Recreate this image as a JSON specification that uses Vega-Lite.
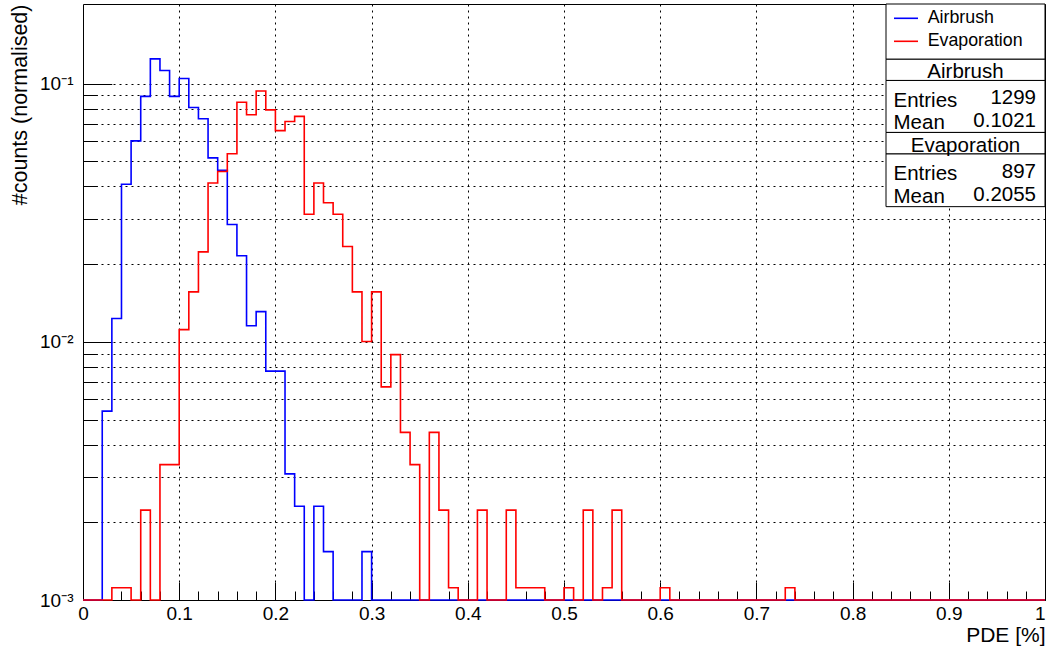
{
  "$schema": "https://vega.github.io/schema/vega-lite/v6.json",
  "width": 962,
  "height": 596,
  "autosize": {"type": "none"},
  "padding": {"left": 83, "top": 4, "right": 1, "bottom": 46},
  "background": "white",
  "config": {
    "view": {"stroke": "black", "strokeWidth": 1},
    "font": "Liberation Sans",
    "axis": {
      "domain": false,
      "labelFont": "Liberation Sans",
      "titleFont": "Liberation Sans",
      "labelColor": "black",
      "titleColor": "black",
      "tickColor": "black",
      "tickWidth": 1,
      "gridColor": "black",
      "gridWidth": 1,
      "gridDash": [2, 4],
      "titleFontWeight": "normal",
      "labelFontSize": 19,
      "titleFontSize": 21,
      "labelFlush": false,
      "labelOverlap": false
    },
    "text": {"font": "Liberation Sans", "fontSize": 20.5, "color": "black"}
  },
  "datasets": {
    "hist": [
      {"sample": "Airbrush", "pde": 0.00, "fraction": 0},
      {"sample": "Airbrush", "pde": 0.01, "fraction": 0},
      {"sample": "Airbrush", "pde": 0.02, "fraction": 0.005389},
      {"sample": "Airbrush", "pde": 0.03, "fraction": 0.012317},
      {"sample": "Airbrush", "pde": 0.04, "fraction": 0.0408},
      {"sample": "Airbrush", "pde": 0.05, "fraction": 0.060046},
      {"sample": "Airbrush", "pde": 0.06, "fraction": 0.089299},
      {"sample": "Airbrush", "pde": 0.07, "fraction": 0.124711},
      {"sample": "Airbrush", "pde": 0.08, "fraction": 0.112394},
      {"sample": "Airbrush", "pde": 0.09, "fraction": 0.089299},
      {"sample": "Airbrush", "pde": 0.10, "fraction": 0.104696},
      {"sample": "Airbrush", "pde": 0.11, "fraction": 0.080831},
      {"sample": "Airbrush", "pde": 0.12, "fraction": 0.073133},
      {"sample": "Airbrush", "pde": 0.13, "fraction": 0.051578},
      {"sample": "Airbrush", "pde": 0.14, "fraction": 0.046189},
      {"sample": "Airbrush", "pde": 0.15, "fraction": 0.028484},
      {"sample": "Airbrush", "pde": 0.16, "fraction": 0.021555},
      {"sample": "Airbrush", "pde": 0.17, "fraction": 0.011547},
      {"sample": "Airbrush", "pde": 0.18, "fraction": 0.013087},
      {"sample": "Airbrush", "pde": 0.19, "fraction": 0.007698},
      {"sample": "Airbrush", "pde": 0.20, "fraction": 0.007698},
      {"sample": "Airbrush", "pde": 0.21, "fraction": 0.003079},
      {"sample": "Airbrush", "pde": 0.22, "fraction": 0.002309},
      {"sample": "Airbrush", "pde": 0.23, "fraction": 0},
      {"sample": "Airbrush", "pde": 0.24, "fraction": 0.002309},
      {"sample": "Airbrush", "pde": 0.25, "fraction": 0.00154},
      {"sample": "Airbrush", "pde": 0.26, "fraction": 0},
      {"sample": "Airbrush", "pde": 0.27, "fraction": 0},
      {"sample": "Airbrush", "pde": 0.28, "fraction": 0},
      {"sample": "Airbrush", "pde": 0.29, "fraction": 0.00154},
      {"sample": "Airbrush", "pde": 0.30, "fraction": 0},
      {"sample": "Airbrush", "pde": 0.31, "fraction": 0},
      {"sample": "Airbrush", "pde": 0.32, "fraction": 0},
      {"sample": "Airbrush", "pde": 0.33, "fraction": 0},
      {"sample": "Airbrush", "pde": 0.34, "fraction": 0},
      {"sample": "Airbrush", "pde": 0.35, "fraction": 0},
      {"sample": "Airbrush", "pde": 0.36, "fraction": 0},
      {"sample": "Airbrush", "pde": 0.37, "fraction": 0},
      {"sample": "Airbrush", "pde": 0.38, "fraction": 0},
      {"sample": "Airbrush", "pde": 0.39, "fraction": 0},
      {"sample": "Airbrush", "pde": 0.40, "fraction": 0},
      {"sample": "Airbrush", "pde": 0.41, "fraction": 0},
      {"sample": "Airbrush", "pde": 0.42, "fraction": 0},
      {"sample": "Airbrush", "pde": 0.43, "fraction": 0},
      {"sample": "Airbrush", "pde": 0.44, "fraction": 0},
      {"sample": "Airbrush", "pde": 0.45, "fraction": 0},
      {"sample": "Airbrush", "pde": 0.46, "fraction": 0},
      {"sample": "Airbrush", "pde": 0.47, "fraction": 0},
      {"sample": "Airbrush", "pde": 0.48, "fraction": 0},
      {"sample": "Airbrush", "pde": 0.49, "fraction": 0},
      {"sample": "Airbrush", "pde": 0.50, "fraction": 0},
      {"sample": "Airbrush", "pde": 0.51, "fraction": 0},
      {"sample": "Airbrush", "pde": 0.52, "fraction": 0},
      {"sample": "Airbrush", "pde": 0.53, "fraction": 0},
      {"sample": "Airbrush", "pde": 0.54, "fraction": 0},
      {"sample": "Airbrush", "pde": 0.55, "fraction": 0},
      {"sample": "Airbrush", "pde": 0.56, "fraction": 0},
      {"sample": "Airbrush", "pde": 0.57, "fraction": 0},
      {"sample": "Airbrush", "pde": 0.58, "fraction": 0},
      {"sample": "Airbrush", "pde": 0.59, "fraction": 0},
      {"sample": "Airbrush", "pde": 0.60, "fraction": 0},
      {"sample": "Airbrush", "pde": 0.61, "fraction": 0},
      {"sample": "Airbrush", "pde": 0.62, "fraction": 0},
      {"sample": "Airbrush", "pde": 0.63, "fraction": 0},
      {"sample": "Airbrush", "pde": 0.64, "fraction": 0},
      {"sample": "Airbrush", "pde": 0.65, "fraction": 0},
      {"sample": "Airbrush", "pde": 0.66, "fraction": 0},
      {"sample": "Airbrush", "pde": 0.67, "fraction": 0},
      {"sample": "Airbrush", "pde": 0.68, "fraction": 0},
      {"sample": "Airbrush", "pde": 0.69, "fraction": 0},
      {"sample": "Airbrush", "pde": 0.70, "fraction": 0},
      {"sample": "Airbrush", "pde": 0.71, "fraction": 0},
      {"sample": "Airbrush", "pde": 0.72, "fraction": 0},
      {"sample": "Airbrush", "pde": 0.73, "fraction": 0},
      {"sample": "Airbrush", "pde": 0.74, "fraction": 0},
      {"sample": "Airbrush", "pde": 0.75, "fraction": 0},
      {"sample": "Airbrush", "pde": 0.76, "fraction": 0},
      {"sample": "Airbrush", "pde": 0.77, "fraction": 0},
      {"sample": "Airbrush", "pde": 0.78, "fraction": 0},
      {"sample": "Airbrush", "pde": 0.79, "fraction": 0},
      {"sample": "Airbrush", "pde": 0.80, "fraction": 0},
      {"sample": "Airbrush", "pde": 0.81, "fraction": 0},
      {"sample": "Airbrush", "pde": 0.82, "fraction": 0},
      {"sample": "Airbrush", "pde": 0.83, "fraction": 0},
      {"sample": "Airbrush", "pde": 0.84, "fraction": 0},
      {"sample": "Airbrush", "pde": 0.85, "fraction": 0},
      {"sample": "Airbrush", "pde": 0.86, "fraction": 0},
      {"sample": "Airbrush", "pde": 0.87, "fraction": 0},
      {"sample": "Airbrush", "pde": 0.88, "fraction": 0},
      {"sample": "Airbrush", "pde": 0.89, "fraction": 0},
      {"sample": "Airbrush", "pde": 0.90, "fraction": 0},
      {"sample": "Airbrush", "pde": 0.91, "fraction": 0},
      {"sample": "Airbrush", "pde": 0.92, "fraction": 0},
      {"sample": "Airbrush", "pde": 0.93, "fraction": 0},
      {"sample": "Airbrush", "pde": 0.94, "fraction": 0},
      {"sample": "Airbrush", "pde": 0.95, "fraction": 0},
      {"sample": "Airbrush", "pde": 0.96, "fraction": 0},
      {"sample": "Airbrush", "pde": 0.97, "fraction": 0},
      {"sample": "Airbrush", "pde": 0.98, "fraction": 0},
      {"sample": "Airbrush", "pde": 0.99, "fraction": 0},
      {"sample": "Airbrush", "pde": 1.00, "fraction": 0},
      {"sample": "Evaporation", "pde": 0.00, "fraction": 0},
      {"sample": "Evaporation", "pde": 0.01, "fraction": 0},
      {"sample": "Evaporation", "pde": 0.02, "fraction": 0},
      {"sample": "Evaporation", "pde": 0.03, "fraction": 0.001115},
      {"sample": "Evaporation", "pde": 0.04, "fraction": 0.001115},
      {"sample": "Evaporation", "pde": 0.05, "fraction": 0},
      {"sample": "Evaporation", "pde": 0.06, "fraction": 0.00223},
      {"sample": "Evaporation", "pde": 0.07, "fraction": 0},
      {"sample": "Evaporation", "pde": 0.08, "fraction": 0.003344},
      {"sample": "Evaporation", "pde": 0.09, "fraction": 0.003344},
      {"sample": "Evaporation", "pde": 0.10, "fraction": 0.011148},
      {"sample": "Evaporation", "pde": 0.11, "fraction": 0.015608},
      {"sample": "Evaporation", "pde": 0.12, "fraction": 0.022297},
      {"sample": "Evaporation", "pde": 0.13, "fraction": 0.041249},
      {"sample": "Evaporation", "pde": 0.14, "fraction": 0.045708},
      {"sample": "Evaporation", "pde": 0.15, "fraction": 0.053512},
      {"sample": "Evaporation", "pde": 0.16, "fraction": 0.084727},
      {"sample": "Evaporation", "pde": 0.17, "fraction": 0.075808},
      {"sample": "Evaporation", "pde": 0.18, "fraction": 0.093645},
      {"sample": "Evaporation", "pde": 0.19, "fraction": 0.079153},
      {"sample": "Evaporation", "pde": 0.20, "fraction": 0.065775},
      {"sample": "Evaporation", "pde": 0.21, "fraction": 0.071349},
      {"sample": "Evaporation", "pde": 0.22, "fraction": 0.074693},
      {"sample": "Evaporation", "pde": 0.23, "fraction": 0.031215},
      {"sample": "Evaporation", "pde": 0.24, "fraction": 0.041249},
      {"sample": "Evaporation", "pde": 0.25, "fraction": 0.03456},
      {"sample": "Evaporation", "pde": 0.26, "fraction": 0.031215},
      {"sample": "Evaporation", "pde": 0.27, "fraction": 0.023411},
      {"sample": "Evaporation", "pde": 0.28, "fraction": 0.015608},
      {"sample": "Evaporation", "pde": 0.29, "fraction": 0.010033},
      {"sample": "Evaporation", "pde": 0.30, "fraction": 0.015608},
      {"sample": "Evaporation", "pde": 0.31, "fraction": 0.006689},
      {"sample": "Evaporation", "pde": 0.32, "fraction": 0.008919},
      {"sample": "Evaporation", "pde": 0.33, "fraction": 0.004459},
      {"sample": "Evaporation", "pde": 0.34, "fraction": 0.003344},
      {"sample": "Evaporation", "pde": 0.35, "fraction": 0},
      {"sample": "Evaporation", "pde": 0.36, "fraction": 0.004459},
      {"sample": "Evaporation", "pde": 0.37, "fraction": 0.00223},
      {"sample": "Evaporation", "pde": 0.38, "fraction": 0.001115},
      {"sample": "Evaporation", "pde": 0.39, "fraction": 0},
      {"sample": "Evaporation", "pde": 0.40, "fraction": 0},
      {"sample": "Evaporation", "pde": 0.41, "fraction": 0.00223},
      {"sample": "Evaporation", "pde": 0.42, "fraction": 0},
      {"sample": "Evaporation", "pde": 0.43, "fraction": 0},
      {"sample": "Evaporation", "pde": 0.44, "fraction": 0.00223},
      {"sample": "Evaporation", "pde": 0.45, "fraction": 0.001115},
      {"sample": "Evaporation", "pde": 0.46, "fraction": 0.001115},
      {"sample": "Evaporation", "pde": 0.47, "fraction": 0.001115},
      {"sample": "Evaporation", "pde": 0.48, "fraction": 0},
      {"sample": "Evaporation", "pde": 0.49, "fraction": 0},
      {"sample": "Evaporation", "pde": 0.50, "fraction": 0.001115},
      {"sample": "Evaporation", "pde": 0.51, "fraction": 0},
      {"sample": "Evaporation", "pde": 0.52, "fraction": 0.00223},
      {"sample": "Evaporation", "pde": 0.53, "fraction": 0},
      {"sample": "Evaporation", "pde": 0.54, "fraction": 0.001115},
      {"sample": "Evaporation", "pde": 0.55, "fraction": 0.00223},
      {"sample": "Evaporation", "pde": 0.56, "fraction": 0},
      {"sample": "Evaporation", "pde": 0.57, "fraction": 0},
      {"sample": "Evaporation", "pde": 0.58, "fraction": 0},
      {"sample": "Evaporation", "pde": 0.59, "fraction": 0},
      {"sample": "Evaporation", "pde": 0.60, "fraction": 0.001115},
      {"sample": "Evaporation", "pde": 0.61, "fraction": 0},
      {"sample": "Evaporation", "pde": 0.62, "fraction": 0},
      {"sample": "Evaporation", "pde": 0.63, "fraction": 0},
      {"sample": "Evaporation", "pde": 0.64, "fraction": 0},
      {"sample": "Evaporation", "pde": 0.65, "fraction": 0},
      {"sample": "Evaporation", "pde": 0.66, "fraction": 0},
      {"sample": "Evaporation", "pde": 0.67, "fraction": 0},
      {"sample": "Evaporation", "pde": 0.68, "fraction": 0},
      {"sample": "Evaporation", "pde": 0.69, "fraction": 0},
      {"sample": "Evaporation", "pde": 0.70, "fraction": 0},
      {"sample": "Evaporation", "pde": 0.71, "fraction": 0},
      {"sample": "Evaporation", "pde": 0.72, "fraction": 0},
      {"sample": "Evaporation", "pde": 0.73, "fraction": 0.001115},
      {"sample": "Evaporation", "pde": 0.74, "fraction": 0},
      {"sample": "Evaporation", "pde": 0.75, "fraction": 0},
      {"sample": "Evaporation", "pde": 0.76, "fraction": 0},
      {"sample": "Evaporation", "pde": 0.77, "fraction": 0},
      {"sample": "Evaporation", "pde": 0.78, "fraction": 0},
      {"sample": "Evaporation", "pde": 0.79, "fraction": 0},
      {"sample": "Evaporation", "pde": 0.80, "fraction": 0},
      {"sample": "Evaporation", "pde": 0.81, "fraction": 0},
      {"sample": "Evaporation", "pde": 0.82, "fraction": 0},
      {"sample": "Evaporation", "pde": 0.83, "fraction": 0},
      {"sample": "Evaporation", "pde": 0.84, "fraction": 0},
      {"sample": "Evaporation", "pde": 0.85, "fraction": 0},
      {"sample": "Evaporation", "pde": 0.86, "fraction": 0},
      {"sample": "Evaporation", "pde": 0.87, "fraction": 0},
      {"sample": "Evaporation", "pde": 0.88, "fraction": 0},
      {"sample": "Evaporation", "pde": 0.89, "fraction": 0},
      {"sample": "Evaporation", "pde": 0.90, "fraction": 0},
      {"sample": "Evaporation", "pde": 0.91, "fraction": 0},
      {"sample": "Evaporation", "pde": 0.92, "fraction": 0},
      {"sample": "Evaporation", "pde": 0.93, "fraction": 0},
      {"sample": "Evaporation", "pde": 0.94, "fraction": 0},
      {"sample": "Evaporation", "pde": 0.95, "fraction": 0},
      {"sample": "Evaporation", "pde": 0.96, "fraction": 0},
      {"sample": "Evaporation", "pde": 0.97, "fraction": 0},
      {"sample": "Evaporation", "pde": 0.98, "fraction": 0},
      {"sample": "Evaporation", "pde": 0.99, "fraction": 0},
      {"sample": "Evaporation", "pde": 1.00, "fraction": 0}
    ],
    "stats": [
      {"name": "Airbrush", "entries": 1299, "mean": 0.1021},
      {"name": "Evaporation", "entries": 897, "mean": 0.2055}
    ]
  },
  "layer": [
    {
      "data": {"name": "hist"},
      "mark": {"type": "line", "interpolate": "step-after", "strokeWidth": 1.6},
      "encoding": {
        "x": {
          "field": "pde",
          "type": "quantitative",
          "scale": {"domain": [0, 1], "nice": false, "zero": false},
          "axis": {
            "title": "PDE [%]",
            "tickCount": 100,
            "values": [0, 0.02, 0.04, 0.06, 0.08, 0.1, 0.12, 0.14, 0.16, 0.18, 0.2, 0.22, 0.24, 0.26, 0.28, 0.3, 0.32, 0.34, 0.36, 0.38, 0.4, 0.42, 0.44, 0.46, 0.48, 0.5, 0.52, 0.54, 0.56, 0.58, 0.6, 0.62, 0.64, 0.66, 0.68, 0.7, 0.72, 0.74, 0.76, 0.78, 0.8, 0.82, 0.84, 0.86, 0.88, 0.9, 0.92, 0.94, 0.96, 0.98, 1],
            "labelExpr": "abs(datum.value*10-round(datum.value*10))<1e-6 ? (datum.value==0 ? '0' : datum.value==1 ? '1' : format(datum.value, '.1f')) : ''",
            "labelAlign": {"condition": {"test": "datum.value == 1", "value": "right"}, "value": "center"},
            "tickSize": {"condition": {"test": "abs(datum.value*10-round(datum.value*10))<1e-6", "value": -17.9}, "value": -9},
            "grid": true,
            "gridOpacity": {"condition": {"test": "abs(datum.value*10-round(datum.value*10))<1e-6 && datum.value>0 && datum.value<1", "value": 1}, "value": 0},
            "labelPadding": 22.5,
            "titleAnchor": "end",
            "titleAlign": "right",
            "titleBaseline": "alphabetic",
            "titleX": 962,
            "titleY": 41
          }
        },
        "y": {
          "field": "fraction",
          "type": "quantitative",
          "scale": {"type": "log", "domain": [0.001, 0.2035], "nice": false, "clamp": true},
          "axis": {
            "title": "#counts (normalised)",
            "titleFontSize": 21.5,
            "tickCount": 60,
            "values": [0.001, 0.002, 0.003, 0.004, 0.005, 0.006, 0.007, 0.008, 0.009, 0.01, 0.02, 0.03, 0.04, 0.05, 0.06, 0.07, 0.08, 0.09, 0.1],
            "labelExpr": "datum.value==0.1 ? '10⁻¹' : datum.value==0.01 ? '10⁻²' : datum.value==0.001 ? '10⁻³' : ''",
            "tickSize": {"condition": {"test": "indexof([0.001, 0.01, 0.1], datum.value) >= 0", "value": -28.8}, "value": -14.4},
            "grid": true,
            "labelPadding": 38.8,
            "labelBaseline": "middle",
            "titleAnchor": "end",
            "titleAngle": -90,
            "titleAlign": "right",
            "titleBaseline": "middle",
            "titleX": -63,
            "titleY": 0
          }
        },
        "color": {
          "field": "sample",
          "type": "nominal",
          "scale": {"domain": ["Airbrush", "Evaporation"], "range": ["#0000ff", "#ff0000"]},
          "legend": {
            "orient": "none",
            "legendX": 810,
            "legendY": 1.3,
            "title": null,
            "symbolType": "stroke",
            "symbolSize": 576,
            "symbolStrokeWidth": 1.6,
            "labelFont": "Liberation Sans",
            "labelFontSize": 17.8,
            "labelColor": "black",
            "labelOffset": 8.7,
            "rowPadding": 1,
            "padding": 0
          }
        }
      }
    },
    {
      "data": {"values": [{}]},
      "mark": {"type": "rect", "fill": "white", "stroke": "black", "strokeWidth": 1},
      "encoding": {"x": {"datum": 0.83472}, "x2": {"datum": 1.0}, "y": {"datum": 0.2035}, "y2": {"datum": 0.12431}}
    },
    {
      "data": {"values": [{}]},
      "mark": {"type": "rect", "fill": "white", "stroke": "black", "strokeWidth": 1},
      "encoding": {"x": {"datum": 0.83472}, "x2": {"datum": 1.0}, "y": {"datum": 0.12431}, "y2": {"datum": 0.1029}}
    },
    {
      "data": {"values": [{}]},
      "mark": {"type": "rect", "fill": "white", "stroke": "black", "strokeWidth": 1},
      "encoding": {"x": {"datum": 0.83472}, "x2": {"datum": 1.0}, "y": {"datum": 0.1029}, "y2": {"datum": 0.06472}}
    },
    {
      "data": {"values": [{}]},
      "mark": {"type": "rect", "fill": "white", "stroke": "black", "strokeWidth": 1},
      "encoding": {"x": {"datum": 0.83472}, "x2": {"datum": 1.0}, "y": {"datum": 0.06472}, "y2": {"datum": 0.05341}}
    },
    {
      "data": {"values": [{}]},
      "mark": {"type": "rect", "fill": "white", "stroke": "black", "strokeWidth": 1},
      "encoding": {"x": {"datum": 0.83472}, "x2": {"datum": 1.0}, "y": {"datum": 0.05341}, "y2": {"datum": 0.03339}}
    },
    {
      "data": {"name": "stats"},
      "transform": [{"filter": "datum.name == 'Airbrush'"}],
      "mark": {"type": "text", "align": "center", "baseline": "alphabetic"},
      "encoding": {"x": {"datum": 0.91736}, "y": {"datum": 0.10475}, "text": {"field": "name"}}
    },
    {
      "data": {"name": "stats"},
      "transform": [{"filter": "datum.name == 'Airbrush'"}],
      "mark": {"type": "text", "align": "left", "baseline": "alphabetic"},
      "encoding": {"x": {"datum": 0.84252}, "y": {"datum": 0.08157}, "text": {"value": "Entries"}}
    },
    {
      "data": {"name": "stats"},
      "transform": [{"filter": "datum.name == 'Airbrush'"}],
      "mark": {"type": "text", "align": "right", "baseline": "alphabetic"},
      "encoding": {"x": {"datum": 0.99064}, "y": {"datum": 0.08304}, "text": {"field": "entries", "type": "quantitative", "format": "d"}}
    },
    {
      "data": {"name": "stats"},
      "transform": [{"filter": "datum.name == 'Airbrush'"}],
      "mark": {"type": "text", "align": "left", "baseline": "alphabetic"},
      "encoding": {"x": {"datum": 0.84252}, "y": {"datum": 0.06648}, "text": {"value": "Mean"}}
    },
    {
      "data": {"name": "stats"},
      "transform": [{"filter": "datum.name == 'Airbrush'"}],
      "mark": {"type": "text", "align": "right", "baseline": "alphabetic"},
      "encoding": {"x": {"datum": 0.99064}, "y": {"datum": 0.06767}, "text": {"field": "mean", "type": "quantitative", "format": ".4f"}}
    },
    {
      "data": {"name": "stats"},
      "transform": [{"filter": "datum.name == 'Evaporation'"}],
      "mark": {"type": "text", "align": "center", "baseline": "alphabetic"},
      "encoding": {"x": {"datum": 0.91736}, "y": {"datum": 0.05437}, "text": {"field": "name"}}
    },
    {
      "data": {"name": "stats"},
      "transform": [{"filter": "datum.name == 'Evaporation'"}],
      "mark": {"type": "text", "align": "left", "baseline": "alphabetic"},
      "encoding": {"x": {"datum": 0.84252}, "y": {"datum": 0.04235}, "text": {"value": "Entries"}}
    },
    {
      "data": {"name": "stats"},
      "transform": [{"filter": "datum.name == 'Evaporation'"}],
      "mark": {"type": "text", "align": "right", "baseline": "alphabetic"},
      "encoding": {"x": {"datum": 0.99064}, "y": {"datum": 0.04311}, "text": {"field": "entries", "type": "quantitative", "format": "d"}}
    },
    {
      "data": {"name": "stats"},
      "transform": [{"filter": "datum.name == 'Evaporation'"}],
      "mark": {"type": "text", "align": "left", "baseline": "alphabetic"},
      "encoding": {"x": {"datum": 0.84252}, "y": {"datum": 0.0345}, "text": {"value": "Mean"}}
    },
    {
      "data": {"name": "stats"},
      "transform": [{"filter": "datum.name == 'Evaporation'"}],
      "mark": {"type": "text", "align": "right", "baseline": "alphabetic"},
      "encoding": {"x": {"datum": 0.99064}, "y": {"datum": 0.03512}, "text": {"field": "mean", "type": "quantitative", "format": ".4f"}}
    }
  ]
}
